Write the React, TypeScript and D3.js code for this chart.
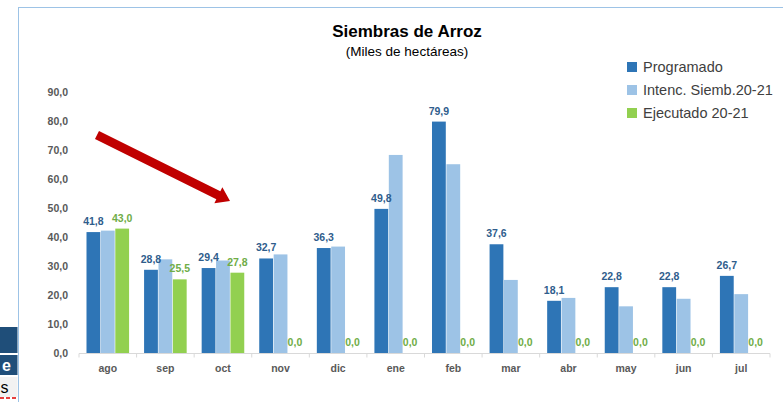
import React from 'react';
import * as d3 from 'd3';

const categories = ['ago', 'sep', 'oct', 'nov', 'dic', 'ene', 'feb', 'mar', 'abr', 'may', 'jun', 'jul'];
const seriesNames = ['Programado', 'Intenc. Siemb.20-21', 'Ejecutado 20-21'];
const programado = [41.8, 28.8, 29.4, 32.7, 36.3, 49.8, 79.9, 37.6, 18.1, 22.8, 22.8, 26.7];
const intencion = [42.3, 32.4, 32.0, 34.1, 36.8, 68.4, 65.2, 25.3, 19.1, 16.2, 18.8, 20.4];
const ejecutado = [43.0, 25.5, 27.8, 0, 0, 0, 0, 0, 0, 0, 0, 0];
const yTicks = [0, 10, 20, 30, 40, 50, 60, 70, 80, 90];

const colors = ['#2E75B6', '#9DC3E6', '#92D050'];
const font = "'Liberation Sans', Arial, sans-serif";

export default function App() {
  const width = 783;
  const height = 402;

  const x = d3.scaleBand<string>()
    .domain(categories)
    .range([79, 770])
    .paddingInner(0.25)
    .paddingOuter(0.125);

  const x1 = d3.scaleBand<string>()
    .domain(seriesNames)
    .range([0, x.bandwidth()]);

  const y = d3.scaleLinear().domain([0, 90]).range([353.3, 92.3]);

  const fmt = (v: number) => v.toFixed(1).replace('.', ',');
  const values = [programado, intencion, ejecutado];
  const step = x.step();
  const tickXs = categories.map(c => (x(c) as number) - step * 0.125).concat([770]);

  // arrow
  const ax0 = 97, ay0 = 135, ax1 = 230, ay1 = 201;
  const len = Math.hypot(ax1 - ax0, ay1 - ay0);
  const ux = (ax1 - ax0) / len, uy = (ay1 - ay0) / len;
  const nx = -uy, ny = ux;
  const bx = ax1 - 13 * ux, by = ay1 - 13 * uy;
  const sw = 4.5, hw = 9;
  const arrowPts = [
    [ax0 + nx * sw, ay0 + ny * sw],
    [bx + nx * sw, by + ny * sw],
    [bx + nx * hw, by + ny * hw],
    [ax1, ay1],
    [bx - nx * hw, by - ny * hw],
    [bx - nx * sw, by - ny * sw],
    [ax0 - nx * sw, ay0 - ny * sw],
  ].map(p => p.join(',')).join(' ');

  return (
    <svg width={width} height={height} style={{ position: 'absolute', left: 0, top: 0 }} fontFamily={font}>
      <rect width={width} height={height} fill="#fff" />

      {/* fragment of neighbouring table on the left */}
      <rect x={0} y={327} width={17.5} height={26} fill="#1F4E79" />
      <rect x={0} y={355} width={17.5} height={20} fill="#1F4E79" />
      <text x={2} y={371} fill="#fff" fontSize={16} fontWeight="bold">e</text>
      <rect x={0} y={377} width={17.5} height={20} fill="#F2F2F2" />
      <text x={0.5} y={393} fill="#000" fontSize={16}>s</text>
      <line x1={0} x2={17} y1={398} y2={398} stroke="#E00000" strokeWidth={1.5} strokeDasharray="4,2" />

      {/* chart border */}
      <line x1={18.5} x2={18.5} y1={7} y2={402} stroke="#9DC3E6" strokeWidth={1} />
      <line x1={18} x2={783} y1={7.5} y2={7.5} stroke="#9DC3E6" strokeWidth={1} />

      {/* title */}
      <text x={407} y={37} textAnchor="middle" fontSize={17} fontWeight="bold" fill="#000">Siembras de Arroz</text>
      <text x={407} y={56} textAnchor="middle" fontSize={13.5} fill="#000">(Miles de hectáreas)</text>

      {/* y axis labels */}
      {yTicks.map(t => (
        <text key={t} x={68} y={y(t)} dy="0.35em" textAnchor="end" fontSize={10.5} fontWeight="bold" fill="#595959">{fmt(t)}</text>
      ))}

      {/* bars */}
      {categories.map((c, i) => (
        <g key={c} transform={`translate(${x(c)},0)`}>
          {seriesNames.map((s, k) => {
            const v = values[k][i];
            return (
              <rect key={s} x={(x1(s) as number) + 0.3} width={x1.bandwidth() - 0.6}
                y={y(v)} height={y(0) - y(v)} fill={colors[k]} />
            );
          })}
          <text x={(x1(seriesNames[0]) as number) + x1.bandwidth() / 2} y={y(programado[i]) - 7}
            textAnchor="middle" fontSize={10.5} fontWeight="bold" fill="#2F5D8C">{fmt(programado[i])}</text>
          <text x={(x1(seriesNames[2]) as number) + x1.bandwidth() / 2} y={y(ejecutado[i]) - 7}
            textAnchor="middle" fontSize={10.5} fontWeight="bold" fill="#70AD47">{fmt(ejecutado[i])}</text>
          <text x={x.bandwidth() / 2} y={372} textAnchor="middle" fontSize={10.5} fontWeight="bold" fill="#595959">{c}</text>
        </g>
      ))}

      {/* x axis */}
      <line x1={79} x2={770} y1={353.5} y2={353.5} stroke="#D9D9D9" strokeWidth={1} />
      {tickXs.map((tx, i) => (
        <line key={i} x1={tx} x2={tx} y1={353.5} y2={357.5} stroke="#D9D9D9" strokeWidth={1} />
      ))}

      {/* arrow */}
      <polygon points={arrowPts} fill="#C00000" />

      {/* legend */}
      {seriesNames.map((s, k) => (
        <g key={s} transform={`translate(627,${67 + k * 23})`}>
          <rect x={0} y={-5} width={10} height={10} fill={colors[k]} />
          <text x={16} y={0} dy="0.35em" fontSize={14.5} fill="#404040">{s}</text>
        </g>
      ))}
    </svg>
  );
}
